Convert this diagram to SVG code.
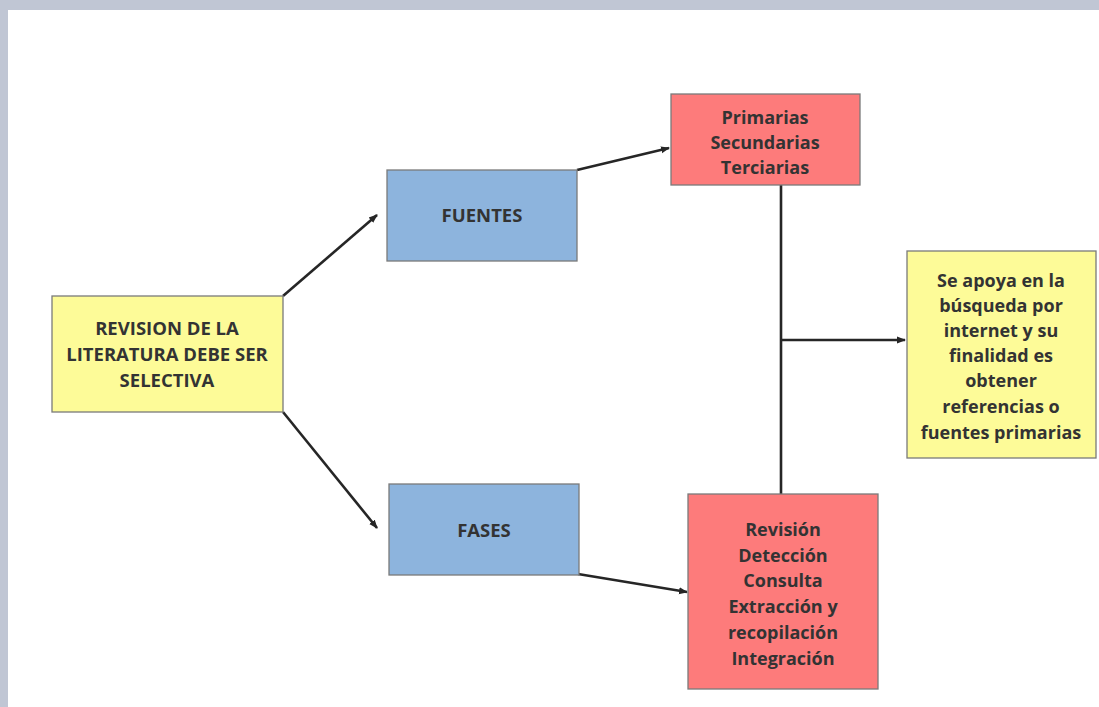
<svg xmlns="http://www.w3.org/2000/svg" width="1099" height="707" viewBox="0 0 1099 707">
<style>
.box{stroke:#7a7a7a;stroke-width:1.3}
.y{fill:#fdfb98}
.b{fill:#8db4dd}
.r{fill:#fd7b7b}
text{font-family:"Open Sans",Lato,"Liberation Sans",sans-serif;font-weight:bold;font-size:18px;fill:#333;text-anchor:middle;dominant-baseline:central}
.caps{font-size:18.5px}
.c{stroke:#262626;stroke-width:2.6;fill:none}
</style>
<defs>
<marker id="ah" markerWidth="10" markerHeight="10" refX="8" refY="5" orient="auto" markerUnits="userSpaceOnUse">
<path d="M0,1.5 L9,5 L0,8.5 Z" fill="#262626"/>
</marker>
</defs>
<rect x="0" y="0" width="1099" height="707" fill="#ffffff"/>
<rect x="0" y="0" width="1099" height="10" fill="#c0c6d4"/>
<rect x="0" y="0" width="8" height="707" fill="#c0c6d4"/>
<g id="connectors">
<line class="c" x1="283" y1="296" x2="377" y2="215" marker-end="url(#ah)"/>
<line class="c" x1="283" y1="412" x2="377" y2="528" marker-end="url(#ah)"/>
<line class="c" x1="577" y1="170" x2="669" y2="148" marker-end="url(#ah)"/>
<line class="c" x1="578" y1="574" x2="687" y2="592" marker-end="url(#ah)"/>
<line class="c" x1="781" y1="185" x2="781" y2="494"/>
<line class="c" x1="781" y1="340" x2="905" y2="340" marker-end="url(#ah)"/>
</g>
<g id="revision">
<rect class="box y" x="52" y="296" width="231" height="116"/>
<text class="caps" x="167" y="327">REVISION DE LA</text>
<text class="caps" x="167" y="353">LITERATURA DEBE SER</text>
<text class="caps" x="167" y="379">SELECTIVA</text>
</g>
<g id="fuentes">
<rect class="box b" x="387" y="170" width="190" height="91"/>
<text class="caps" x="482" y="214">FUENTES</text>
</g>
<g id="fases">
<rect class="box b" x="389" y="484" width="190" height="91"/>
<text class="caps" x="484" y="529">FASES</text>
</g>
<g id="tipos">
<rect class="box r" x="671" y="94" width="189" height="91"/>
<text x="765" y="117">Primarias</text>
<text x="765" y="142">Secundarias</text>
<text x="765" y="167">Terciarias</text>
</g>
<g id="etapas">
<rect class="box r" x="688" y="494" width="190" height="195"/>
<text x="783" y="529">Revisión</text>
<text x="783" y="555">Detección</text>
<text x="783" y="580">Consulta</text>
<text x="783" y="606">Extracción y</text>
<text x="783" y="632">recopilación</text>
<text x="783" y="658">Integración</text>
</g>
<g id="apoyo">
<rect class="box y" x="907" y="251" width="189" height="207"/>
<text x="1001" y="280">Se apoya en la</text>
<text x="1001" y="305">búsqueda por</text>
<text x="1001" y="330">internet y su</text>
<text x="1001" y="355">finalidad es</text>
<text x="1001" y="380">obtener</text>
<text x="1001" y="406">referencias o</text>
<text x="1001" y="432">fuentes primarias</text>
</g>
</svg>
